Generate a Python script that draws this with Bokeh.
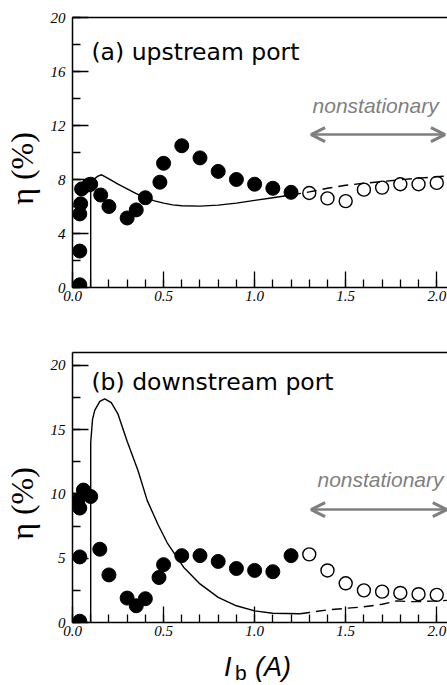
from bokeh.plotting import figure
from bokeh.layouts import column
from bokeh.models import (SingleIntervalTicker, PrintfTickFormatter, Label, LinearAxis,
                          FixedTicker, Arrow, OpenHead, Range1d, Div)
from bokeh.embed import file_html
from bokeh.resources import INLINE

# ---------------- data: panel (a) upstream port ----------------
a_fill_x = [0.04, 0.04, 0.04, 0.045, 0.05, 0.09, 0.1, 0.155, 0.2, 0.3, 0.35, 0.4,
            0.48, 0.5, 0.6, 0.7, 0.8, 0.9, 1.0, 1.1, 1.2]
a_fill_y = [0.2, 2.7, 5.45, 6.2, 7.3, 7.6, 7.65, 6.85, 6.0, 5.15, 5.75, 6.65,
            7.8, 9.2, 10.5, 9.6, 8.6, 8.0, 7.65, 7.35, 7.05]
a_open_x = [1.3, 1.4, 1.5, 1.6, 1.7, 1.8, 1.9, 2.0]
a_open_y = [7.0, 6.6, 6.4, 7.25, 7.4, 7.65, 7.65, 7.75]
a_solid_x = [0.1, 0.1, 0.12, 0.14, 0.16, 0.2, 0.25, 0.3, 0.35, 0.4, 0.45, 0.5,
             0.55, 0.6, 0.7, 0.8, 0.9, 1.0, 1.1, 1.2]
a_solid_y = [0.0, 7.7, 8.05, 8.25, 8.35, 8.05, 7.65, 7.3, 6.95, 6.65, 6.42, 6.25,
             6.12, 6.06, 6.03, 6.1, 6.25, 6.45, 6.65, 6.85]
a_dash_x = [1.2, 1.3, 1.4, 1.5, 1.6, 1.7, 1.8, 1.9, 2.0, 2.06]
a_dash_y = [6.85, 7.08, 7.35, 7.57, 7.72, 7.85, 7.98, 8.1, 8.2, 8.27]

# ---------------- data: panel (b) downstream port ----------------
b_fill_x = [0.04, 0.04, 0.04, 0.03, 0.06, 0.1, 0.15, 0.2, 0.3, 0.35, 0.4, 0.475,
            0.5, 0.6, 0.7, 0.8, 0.9, 1.0, 1.1, 1.2]
b_fill_y = [0.1, 5.1, 8.9, 9.5, 10.3, 9.8, 5.7, 3.7, 1.9, 1.3, 1.85, 3.5,
            4.5, 5.2, 5.2, 4.75, 4.2, 4.05, 3.95, 5.2]
b_open_x = [1.3, 1.4, 1.5, 1.6, 1.7, 1.8, 1.9, 2.0]
b_open_y = [5.3, 4.05, 3.05, 2.5, 2.4, 2.3, 2.2, 2.15]
b_solid_x = [0.1, 0.1, 0.11, 0.122, 0.15, 0.177, 0.213, 0.25, 0.3, 0.36, 0.41,
             0.47, 0.52, 0.61, 0.7, 0.8, 0.9, 1.0, 1.1, 1.25]
b_solid_y = [0.0, 14.0, 15.8, 16.5, 17.2, 17.4, 17.1, 16.2, 14.1, 11.8, 9.5,
             7.6, 6.2, 4.3, 3.0, 1.95, 1.3, 0.9, 0.72, 0.68]
b_dash_x = [1.25, 1.3, 1.4, 1.5, 1.6, 1.7, 1.78, 1.85, 1.9, 2.0, 2.06]
b_dash_y = [0.68, 0.78, 0.98, 1.1, 1.22, 1.42, 1.68, 1.62, 1.62, 1.68, 1.72]

x_tick_step = 0.5
a_y_tick_step = 4
b_y_tick_step = 5
a_title = "(a) upstream port"
b_title = "(b) downstream port"
note_text = "nonstationary"
y_label = "η (%)"
x_label_main = "I"
x_label_sub = "b"
x_label_unit = "(A)"

GRAY = "#7f7f7f"
TICK_FONT = "Liberation Serif"
PAD = "\u00a0" * 4   # shifts the rotated y label slightly downward, as in the original


def make_panel(height, top, bottom, ymax, ystep, fx, fy, ox, oy, sx, sy, dx, dy,
               title, title_y, note_x, note_y, arrow_x0, arrow_x1, arrow_y):
    p = figure(width=447, height=height, output_backend="svg", toolbar_location=None,
               x_range=Range1d(0, 2.059), y_range=Range1d(0, ymax),
               min_border_left=71, min_border_right=0, min_border_top=top,
               min_border_bottom=bottom, outline_line_color=None,
               background_fill_color="white", border_fill_color="white")
    p.xgrid.visible = False
    p.ygrid.visible = False

    xa = p.xaxis[0]
    xa.ticker = SingleIntervalTicker(interval=x_tick_step, num_minor_ticks=5)
    xa.formatter = PrintfTickFormatter(format="%.1f")
    ya = p.yaxis[0]
    ya.ticker = SingleIntervalTicker(interval=ystep, num_minor_ticks=2)
    for ax in (xa, ya):
        ax.axis_line_width = 1.5
        ax.axis_line_color = "black"
        ax.major_tick_in = 16
        ax.major_tick_out = 0
        ax.minor_tick_in = 8
        ax.minor_tick_out = 0
        ax.major_tick_line_width = 1.3
        ax.minor_tick_line_width = 1.3
        ax.major_label_text_font = TICK_FONT
        ax.major_label_text_font_style = "italic"
        ax.major_label_text_font_size = "15px"
        ax.major_label_text_color = "black"
    xa.major_label_standoff = 3
    ya.major_label_standoff = 7
    ya.axis_label = y_label + PAD
    ya.axis_label_text_font = "Liberation Serif"
    ya.axis_label_text_font_style = "normal"
    ya.axis_label_text_font_size = "32px"
    ya.axis_label_text_color = "black"
    ya.axis_label_standoff = 8

    top_axis = LinearAxis(ticker=FixedTicker(ticks=[]), axis_line_width=1.5,
                          axis_line_color="black", major_tick_in=0, major_tick_out=0,
                          minor_tick_in=0, minor_tick_out=0)
    p.add_layout(top_axis, "above")

    p.line(sx, sy, line_color="black", line_width=1.4)
    p.line(dx, dy, line_color="black", line_width=1.4, line_dash="10 6")
    p.scatter(fx, fy, size=14, marker="circle", fill_color="black", line_color="black")
    p.scatter(ox, oy, size=13, marker="circle", fill_color=None, line_color="black",
              line_width=1.4)

    p.add_layout(Label(x=0.104, y=title_y, text=title, text_font="DejaVu Sans",
                       text_font_size="23.5px", text_color="black",
                       text_baseline="alphabetic"))
    p.add_layout(Label(x=note_x, y=note_y, text=note_text, text_font="Liberation Sans",
                       text_font_style="italic", text_font_size="21px",
                       text_color=GRAY, text_baseline="alphabetic"))
    p.add_layout(Arrow(x_start=arrow_x0, y_start=arrow_y, x_end=arrow_x1, y_end=arrow_y,
                       line_color=GRAY, line_width=2.5,
                       start=OpenHead(size=14, line_color=GRAY, line_width=3),
                       end=OpenHead(size=14, line_color=GRAY, line_width=3)))
    return p


p1 = make_panel(330, 17, 43, 20, a_y_tick_step, a_fill_x, a_fill_y, a_open_x, a_open_y,
                a_solid_x, a_solid_y, a_dash_x, a_dash_y, a_title, 17.45,
                1.318, 13.5, 1.31, 2.045, 11.33)
p2 = make_panel(320, 22, 28, 21, b_y_tick_step, b_fill_x, b_fill_y, b_open_x, b_open_y,
                b_solid_x, b_solid_y, b_dash_x, b_dash_y, b_title, 18.68,
                1.345, 11.14, 1.31, 2.055, 8.78)

# x axis title "I_b (A)" with a subscript b, as HTML text below panel (b)
font = "font-family:'Liberation Sans';color:black;position:absolute;white-space:nowrap;"
xlabel_html = (
    '<div style="position:relative;width:447px;height:35px;">'
    f'<span style="{font}left:224px;top:4px;font-size:27px;line-height:27px;'
    f'font-style:italic;">{x_label_main}</span>'
    f'<span style="{font}left:235px;top:12px;font-size:21px;line-height:21px;">'
    f'{x_label_sub}</span>'
    f'<span style="{font}left:255px;top:4px;font-size:27px;line-height:27px;'
    f'font-style:italic;">{x_label_unit}</span>'
    '</div>'
)
xlabel = Div(text=xlabel_html, width=447, height=35, margin=0)

layout = column(p1, p2, xlabel, spacing=0)
open("out.html", "w").write(file_html(layout, INLINE))
